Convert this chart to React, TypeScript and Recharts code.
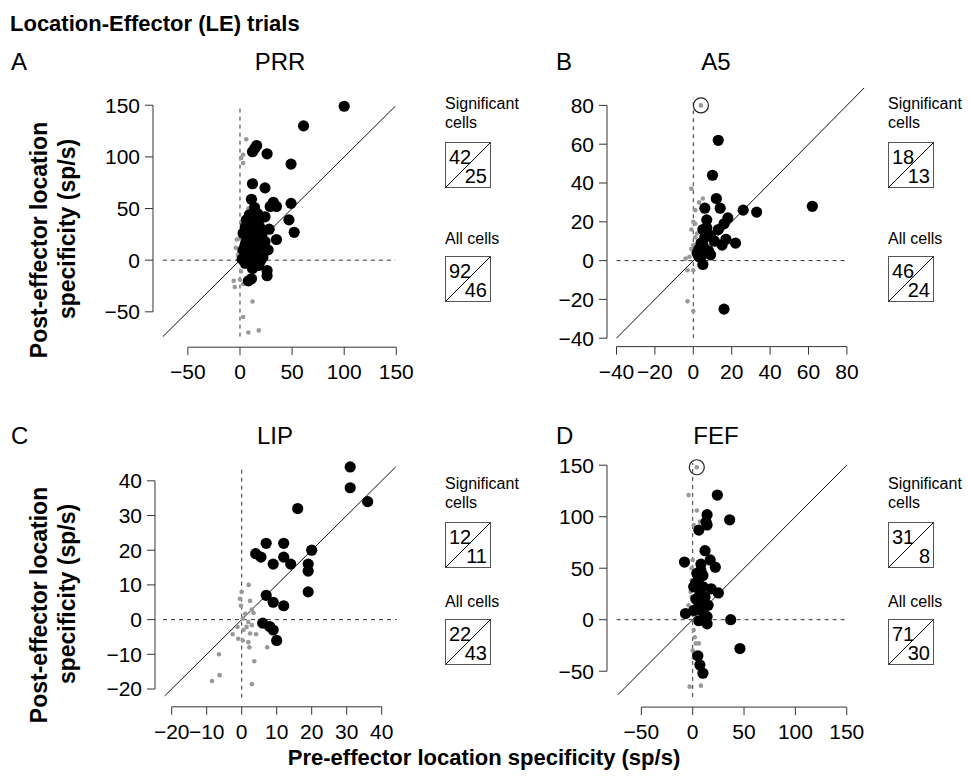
import React from "react";
import { ScatterChart, Scatter, XAxis, YAxis, ReferenceLine } from "recharts";

const FONT = "'Liberation Sans', Arial, Helvetica, sans-serif";

// PRR (panel A)
const prrSig = [
  { x: 100, y: 149 }, { x: 61, y: 130 }, { x: 16, y: 111 }, { x: 12, y: 105 }, { x: 14, y: 108 },
  { x: 26, y: 103 }, { x: 49, y: 93 }, { x: 12, y: 74 }, { x: 24, y: 70 }, { x: 11, y: 59 },
  { x: 14, y: 51 }, { x: 32, y: 56 }, { x: 35, y: 52 }, { x: 29, y: 52 }, { x: 49, y: 55 },
  { x: 47, y: 39 }, { x: 52, y: 27 }, { x: 35, y: 20 }, { x: 24, y: 42 }, { x: 19, y: 40 },
  { x: 6, y: 39 }, { x: 5, y: 32 }, { x: 11, y: 34 }, { x: 16, y: 37 }, { x: 3, y: 26 },
  { x: 10, y: 23 }, { x: 21, y: 24 }, { x: 24, y: 18 }, { x: 27, y: 10 }, { x: 22, y: 3 },
  { x: 10, y: 13 }, { x: 5, y: 15 }, { x: 16, y: 16 }, { x: 8, y: 3 }, { x: 5, y: -3 },
  { x: 13, y: -3 }, { x: 26, y: -10 }, { x: 26, y: -15 }, { x: 11, y: -18 }, { x: 8, y: -20 },
  { x: 5, y: 7 }, { x: 16, y: 7 }, { x: 19, y: 13 }, { x: 13, y: 21 }, { x: 6, y: 18 },
  { x: 19, y: 32 }, { x: 9, y: 44 }, { x: 14, y: 28 }, { x: 20, y: 0 }, { x: 3, y: 10 },
  { x: 17, y: 45 }, { x: 8, y: 28 }, { x: 12, y: -8 }, { x: 18, y: -5 }, { x: 2, y: 1 },
  { x: 28, y: 30 }, { x: 15, y: 2 },
];
const prrNon = [
  { x: 6, y: 117 }, { x: 3, y: 102 }, { x: 3, y: 94 }, { x: 1, y: 99 }, { x: 8, y: 50 },
  { x: -3, y: 20 }, { x: 0, y: 23 }, { x: -1, y: 8 }, { x: 1, y: 10 }, { x: -2, y: 5 },
  { x: 3, y: 2 }, { x: -6, y: -20 }, { x: -5, y: -26 }, { x: 0, y: -19 }, { x: 3, y: -23 },
  { x: 12, y: -40 }, { x: 3, y: -55 }, { x: 8, y: -70 }, { x: 18, y: -68 }, { x: 3, y: -6 },
  { x: 1, y: -11 }, { x: 6, y: -2 }, { x: -4, y: 12 }, { x: 2, y: 30 }, { x: 4, y: 40 },
];

// A5 (panel B)
const a5Sig = [
  { x: 13, y: 62 }, { x: 10, y: 44 }, { x: 12, y: 32 }, { x: 6, y: 27 }, { x: 14, y: 27 },
  { x: 26, y: 26 }, { x: 33, y: 25 }, { x: 62, y: 28 }, { x: 18, y: 22 }, { x: 16, y: 19 },
  { x: 7, y: 21 }, { x: 13, y: 16 }, { x: 7, y: 17 }, { x: 5, y: 16 }, { x: 9, y: 13 },
  { x: 17, y: 11 }, { x: 15, y: 8 }, { x: 22, y: 9 }, { x: 4, y: 9 }, { x: 5, y: 8 },
  { x: 3, y: 6 }, { x: 4, y: 4 }, { x: 9, y: 3 }, { x: 4, y: 2 }, { x: 5, y: -2 },
  { x: 3, y: 2 }, { x: 16, y: -25 }, { x: 6, y: 12 }, { x: 11, y: 10 }, { x: 8, y: 5 },
  { x: 2, y: 4 },
];
const a5Non = [
  { x: 4, y: 80 }, { x: -1, y: 37 }, { x: 5, y: 32 }, { x: 3, y: 30 }, { x: -1, y: 16 },
  { x: 1, y: 12 }, { x: 0, y: 8 }, { x: -1, y: 6 }, { x: -2, y: 2 }, { x: -4, y: 1 },
  { x: -3, y: -5 }, { x: 0, y: -5 }, { x: -3, y: -21 }, { x: 0, y: -26 }, { x: 1, y: 19 },
  { x: 0, y: 20 }, { x: 1, y: 26 }, { x: 2, y: 14 },
];
const a5Circled = [{ x: 4, y: 80 }];

// LIP (panel C)
const lipSig = [
  { x: 31, y: 44 }, { x: 31, y: 38 }, { x: 36, y: 34 }, { x: 16, y: 32 }, { x: 7, y: 22 },
  { x: 12, y: 22 }, { x: 4, y: 19 }, { x: 5.5, y: 18 }, { x: 12, y: 18 }, { x: 9, y: 16 },
  { x: 14, y: 16 }, { x: 20, y: 20 }, { x: 19, y: 16 }, { x: 19, y: 14 }, { x: 19, y: 8 },
  { x: 7, y: 7 }, { x: 9, y: 5 }, { x: 12, y: 4 }, { x: 6, y: -1 }, { x: 8, y: -2 },
  { x: 9, y: -3 }, { x: 10, y: -6 },
];
const lipNon = [
  { x: 2, y: 10 }, { x: 0, y: 8 }, { x: -0.5, y: 6 }, { x: -0.2, y: 4 }, { x: 2.4, y: 5.4 },
  { x: 2.9, y: 2.9 }, { x: 3.4, y: 1.9 }, { x: 1, y: 1.7 }, { x: 0.3, y: 0.3 }, { x: 1.9, y: -0.7 },
  { x: 2.9, y: -1.6 }, { x: 1.4, y: -2.1 }, { x: 0.5, y: -3 }, { x: 2.4, y: -4 }, { x: 4.1, y: -4.2 },
  { x: -2.6, y: -4.2 }, { x: -1, y: -5.5 }, { x: 0.3, y: -6 }, { x: 1.9, y: -6.5 }, { x: 2.2, y: -8 },
  { x: 7.3, y: -8 }, { x: 3.6, y: -12 }, { x: -6.5, y: -10 }, { x: -6.3, y: -16 }, { x: -8.5, y: -17.7 },
  { x: 2.9, y: -18.6 }, { x: -1.2, y: -2.1 },
];

// FEF (panel D)
const fefSig = [
  { x: 24, y: 121 }, { x: 14, y: 102 }, { x: 36, y: 97 }, { x: 13, y: 95 }, { x: 14, y: 92 },
  { x: 6, y: 87 }, { x: 12, y: 67 }, { x: -8, y: 56 }, { x: 17, y: 58 }, { x: 22, y: 51 },
  { x: 8, y: 54 }, { x: 4, y: 45 }, { x: 10, y: 43 }, { x: 6, y: 40 }, { x: 1, y: 32 },
  { x: 10, y: 32 }, { x: 18, y: 30 }, { x: 25, y: 26 }, { x: 7, y: 25 }, { x: 3, y: 20 },
  { x: 9, y: 18 }, { x: 15, y: 14 }, { x: 6, y: 13 }, { x: -7, y: 6 }, { x: 1, y: 9 },
  { x: 10, y: 8 }, { x: 14, y: 3 }, { x: 6, y: -1 }, { x: 14, y: -4 }, { x: 37, y: 0 },
  { x: 46, y: -28 }, { x: 5, y: -35 }, { x: 7, y: -44 }, { x: 10, y: -52 }, { x: 3, y: 36 },
  { x: 8, y: 48 }, { x: 12, y: 22 },
];
const fefNon = [
  { x: 4, y: 148 }, { x: -4, y: 121 }, { x: 4, y: 106 }, { x: 1, y: 92 }, { x: 7, y: 95 },
  { x: 0, y: 58 }, { x: -1, y: 50 }, { x: -1, y: 22 }, { x: -4, y: 14 }, { x: 0, y: 9 },
  { x: 2, y: -17 }, { x: 3, y: -23 }, { x: 6, y: -23 }, { x: 0, y: -30 }, { x: 1, y: -37 },
  { x: -3, y: -65 }, { x: 8, y: -64 }, { x: 1, y: -10 }, { x: -1, y: 38 }, { x: -2, y: 27 },
  { x: 2, y: 4 },
];
const fefCircled = [{ x: 4, y: 148 }];

const ticks150 = [-50, 0, 50, 100, 150];
const ticks80 = [-40, -20, 0, 20, 40, 60, 80];
const ticks40 = [-20, -10, 0, 10, 20, 30, 40];

// counts shown in the boxes: [above diagonal, below diagonal]
const sigCounts = [[42, 25], [18, 13], [12, 11], [31, 8]];
const allCounts = [[92, 46], [46, 24], [22, 43], [71, 30]];

const fmt = (v: number) => String(v).replace("-", "\u2212");

const bigDot = (p: any) => <circle cx={p.cx} cy={p.cy} r={5.6} fill="#000" />;
const smallDot = (p: any) => <circle cx={p.cx} cy={p.cy} r={2.3} fill="#999" />;
const ring = (p: any) => <circle cx={p.cx} cy={p.cy} r={7.5} fill="none" stroke="#222" strokeWidth={1.2} />;

type PanelProps = {
  sig: { x: number; y: number }[];
  non: { x: number; y: number }[];
  circled?: { x: number; y: number }[];
  ticks: number[];
  x0: number; xs: number; y0: number; ys: number;
  axisLeft: number; axisBottom: number;
  xmax: number; ymax: number;
  hLine: [number, number]; vLine: [number, number]; diag: [number, number];
};

function Panel(p: PanelProps) {
  const xmin = (p.axisLeft - p.x0) / p.xs;
  const ymin = (p.y0 - p.axisBottom) / p.ys;
  const plotW = (p.xmax - xmin) * p.xs;
  const plotH = (p.ymax - ymin) * p.ys;
  const YW = 70;
  const XH = 45;
  const TOP = 16;
  const RIGHT = 25;
  const t0 = p.ticks[0];
  const t1 = p.ticks[p.ticks.length - 1];
  const tick = { fill: "#000", fontSize: 21, fontFamily: FONT };
  return (
    <div style={{ position: "absolute", left: p.axisLeft - YW, top: p.axisBottom - plotH - TOP }}>
      <ScatterChart width={YW + plotW + RIGHT} height={TOP + plotH + XH} margin={{ top: TOP, right: RIGHT, bottom: 0, left: 0 }}>
        <XAxis type="number" dataKey="x" domain={[xmin, p.xmax]} ticks={p.ticks} allowDataOverflow
          axisLine={false} tickLine={{ stroke: "#333" }} tickSize={8} tickMargin={9}
          tick={tick} tickFormatter={fmt} height={XH} interval={0} />
        <YAxis type="number" dataKey="y" domain={[ymin, p.ymax]} ticks={p.ticks} allowDataOverflow
          axisLine={false} tickLine={{ stroke: "#333" }} tickSize={8} tickMargin={5}
          tick={tick} tickFormatter={fmt} width={YW} interval={0} />
        <ReferenceLine segment={[{ x: t0, y: ymin }, { x: t1, y: ymin }]} stroke="#333" ifOverflow="visible" />
        <ReferenceLine segment={[{ x: xmin, y: t0 }, { x: xmin, y: t1 }]} stroke="#333" ifOverflow="visible" />
        <ReferenceLine segment={[{ x: p.hLine[0], y: 0 }, { x: p.hLine[1], y: 0 }]} stroke="#333" strokeDasharray="4 4" ifOverflow="visible" />
        <ReferenceLine segment={[{ x: 0, y: p.vLine[0] }, { x: 0, y: p.vLine[1] }]} stroke="#333" strokeDasharray="4 4" ifOverflow="visible" />
        <ReferenceLine segment={[{ x: p.diag[0], y: p.diag[0] }, { x: p.diag[1], y: p.diag[1] }]} stroke="#111" ifOverflow="visible" />
        <Scatter data={p.non} shape={smallDot} isAnimationActive={false} />
        <Scatter data={p.sig} shape={bigDot} isAnimationActive={false} />
        {p.circled && <Scatter data={p.circled} shape={ring} isAnimationActive={false} />}
      </ScatterChart>
    </div>
  );
}

function CountBox({ left, top, label, counts }: { left: number; top: number; label: string[]; counts: number[] }) {
  return (
    <div style={{ position: "absolute", left, top, fontFamily: FONT }}>
      <div style={{ fontSize: 16, lineHeight: "19px" }}>
        {label.map((l) => <div key={l}>{l}</div>)}
      </div>
      <svg width={47} height={47} style={{ display: "block", marginTop: label.length > 1 ? 10 : 8 }}>
        <rect x={0.5} y={0.5} width={45} height={45} fill="#fff" stroke="#555" />
        <line x1={0.5} y1={45.5} x2={45.5} y2={0.5} stroke="#000" />
        <text x={4} y={22} fontSize={20} fontFamily={FONT}>{counts[0]}</text>
        <text x={42} y={41} fontSize={20} fontFamily={FONT} textAnchor="end">{counts[1]}</text>
      </svg>
    </div>
  );
}

const txt = (s: React.CSSProperties): React.CSSProperties => ({ position: "absolute", fontFamily: FONT, whiteSpace: "nowrap", lineHeight: 1, ...s });

function YLabel({ c1, c2 }: { c1: number; c2: number }) {
  return (
    <svg width={90} height={779} style={{ position: "absolute", left: 0, top: 0 }}>
      <g fontFamily={FONT} fontWeight="bold" fontSize={23} textAnchor="middle">
        <text transform={`translate(47,${c1}) rotate(-90)`}>Post-effector location</text>
        <text transform={`translate(75,${c2}) rotate(-90)`}>specificity (sp/s)</text>
      </g>
    </svg>
  );
}

export default function App() {
  return (
    <div style={{ position: "absolute", left: 0, top: 0, width: 969, height: 779, background: "#fff", overflow: "hidden" }}>
      <div style={txt({ left: 10, top: 13, fontSize: 22, fontWeight: "bold" })}>Location-Effector (LE) trials</div>
      <div style={txt({ left: 11, top: 50, fontSize: 24 })}>A</div>
      <div style={txt({ left: 280, top: 50, fontSize: 24, transform: "translateX(-50%)" })}>PRR</div>
      <div style={txt({ left: 556, top: 50, fontSize: 24 })}>B</div>
      <div style={txt({ left: 716, top: 50, fontSize: 24, transform: "translateX(-50%)" })}>A5</div>
      <div style={txt({ left: 11, top: 424, fontSize: 24 })}>C</div>
      <div style={txt({ left: 275, top: 424, fontSize: 24, transform: "translateX(-50%)" })}>LIP</div>
      <div style={txt({ left: 556, top: 424, fontSize: 24 })}>D</div>
      <div style={txt({ left: 716, top: 424, fontSize: 24, transform: "translateX(-50%)" })}>FEF</div>

      <YLabel c1={240} c2={229} />
      <div style={{ position: "absolute", left: 0, top: 365 }}>
        <YLabel c1={240} c2={229} />
      </div>
      <div style={txt({ left: 484, top: 747, fontSize: 22, fontWeight: "bold", transform: "translateX(-50%)" })}>
        Pre-effector location specificity (sp/s)
      </div>

      <Panel sig={prrSig} non={prrNon} ticks={ticks150} x0={240} xs={1.042} y0={260} ys={1.033}
        axisLeft={153} axisBottom={347} xmax={155} ymax={157} hLine={[-74, 149]} vLine={[-74, 150]} diag={[-74, 149]} />
      <Panel sig={a5Sig} non={a5Non} circled={a5Circled} ticks={ticks80} x0={693.3} xs={1.92} y0={261} ys={1.94}
        axisLeft={607} axisBottom={347} xmax={92} ymax={90} hLine={[-40, 80]} vLine={[-40, 84]} diag={[-40, 89]} />
      <Panel sig={lipSig} non={lipNon} ticks={ticks40} x0={241.7} xs={3.5} y0={619.3} ys={3.47}
        axisLeft={155} axisBottom={706.5} xmax={46} ymax={46} hLine={[-22.5, 44.3]} vLine={[-22.5, 44.3]} diag={[-22, 44]} />
      <Panel sig={fefSig} non={fefNon} circled={fefCircled} ticks={ticks150} x0={692.7} xs={1.027} y0={619.3} ys={1.03}
        axisLeft={607} axisBottom={706.7} xmax={155} ymax={157} hLine={[-74, 150]} vLine={[-75, 152]} diag={[-73, 150]} />

      <CountBox left={445} top={94} label={["Significant", "cells"]} counts={sigCounts[0]} />
      <CountBox left={445} top={229} label={["All cells"]} counts={allCounts[0]} />
      <CountBox left={888} top={94} label={["Significant", "cells"]} counts={sigCounts[1]} />
      <CountBox left={888} top={229} label={["All cells"]} counts={allCounts[1]} />
      <CountBox left={445} top={474} label={["Significant", "cells"]} counts={sigCounts[2]} />
      <CountBox left={445} top={592} label={["All cells"]} counts={allCounts[2]} />
      <CountBox left={888} top={474} label={["Significant", "cells"]} counts={sigCounts[3]} />
      <CountBox left={888} top={592} label={["All cells"]} counts={allCounts[3]} />
    </div>
  );
}
